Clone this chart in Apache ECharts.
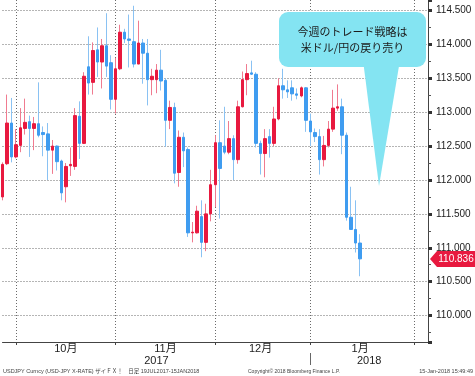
<!DOCTYPE html>
<html>
<head>
<meta charset="utf-8">
<script src="https://cdn.jsdelivr.net/npm/echarts@6/dist/echarts.min.js"></script>
<style>
  html, body { margin: 0; padding: 0; background: #fff; }
  #chart { width: 475px; height: 376px; }
</style>
</head>
<body>
<div id="chart"></div>
<script>
// trading days shown on the axis (data stops mid-January, axis runs on into February)
const days = [
  '2017-09-27', '2017-09-28', '2017-09-29',
  '2017-10-02', '2017-10-03', '2017-10-04', '2017-10-05', '2017-10-06',
  '2017-10-09', '2017-10-10', '2017-10-11', '2017-10-12', '2017-10-13',
  '2017-10-16', '2017-10-17', '2017-10-18', '2017-10-19', '2017-10-20',
  '2017-10-23', '2017-10-24', '2017-10-25', '2017-10-26', '2017-10-27',
  '2017-10-30', '2017-10-31',
  '2017-11-01', '2017-11-02', '2017-11-03',
  '2017-11-06', '2017-11-07', '2017-11-08', '2017-11-09', '2017-11-10',
  '2017-11-13', '2017-11-14', '2017-11-15', '2017-11-16', '2017-11-17',
  '2017-11-20', '2017-11-21', '2017-11-22', '2017-11-23', '2017-11-24',
  '2017-11-27', '2017-11-28', '2017-11-29', '2017-11-30',
  '2017-12-01',
  '2017-12-04', '2017-12-05', '2017-12-06', '2017-12-07', '2017-12-08',
  '2017-12-11', '2017-12-12', '2017-12-13', '2017-12-14', '2017-12-15',
  '2017-12-18', '2017-12-19', '2017-12-20', '2017-12-21', '2017-12-22',
  '2017-12-25', '2017-12-26', '2017-12-27', '2017-12-28', '2017-12-29',
  '2018-01-01', '2018-01-02', '2018-01-03', '2018-01-04', '2018-01-05',
  '2018-01-08', '2018-01-09', '2018-01-10', '2018-01-11', '2018-01-12',
  '2018-01-15', '2018-01-16', '2018-01-17', '2018-01-18', '2018-01-19',
  '2018-01-22', '2018-01-23', '2018-01-24', '2018-01-25', '2018-01-26',
  '2018-01-29', '2018-01-30', '2018-01-31',
  '2018-02-01', '2018-02-02', '2018-02-05', '2018-02-06'
];

const opens = [
  111.75, 112.24, 112.84, 112.34, 112.51, 112.76, 112.86, 112.76, 112.83, 112.70,
  112.68, 112.44, 112.50, 112.28, 111.90, 112.21, 112.20, 112.94, 112.54, 113.67,
  113.44, 113.92, 113.74, 113.98, 113.73, 113.19, 113.64, 114.18, 114.08, 114.04,
  113.71, 114.02, 113.87, 113.48, 113.48, 113.62, 113.47, 112.88, 113.07, 112.11,
  112.63, 112.45, 111.22, 111.22, 111.46, 111.08, 111.50, 111.93, 112.55, 112.50,
  112.41, 112.61, 112.30, 113.08, 113.48, 113.58, 113.56, 112.54, 112.39, 112.64,
  112.54, 112.90, 113.39, 113.33, 113.36, 113.27, 113.24, 113.36, 112.87, 112.70,
  112.64, 112.30, 112.51, 112.75, 113.06, 113.08, 112.66, 111.45, 111.27, 111.07
];
const closes = [
  112.23, 112.84, 112.34, 112.52, 112.77, 112.85, 112.76, 112.83, 112.66, 112.67,
  112.44, 112.50, 112.27, 111.81, 112.20, 112.23, 112.95, 112.54, 113.53, 113.43,
  113.91, 113.74, 113.98, 113.68, 113.19, 113.64, 114.18, 114.08, 114.06, 113.71,
  114.02, 113.87, 113.48, 113.53, 113.62, 113.46, 112.88, 113.07, 112.10, 112.63,
  112.43, 111.22, 111.23, 111.54, 111.08, 111.50, 111.93, 112.55, 112.17, 112.41,
  112.61, 112.30, 113.08, 113.48, 113.57, 113.56, 112.54, 112.39, 112.61, 112.54,
  112.90, 113.39, 113.33, 113.30, 113.27, 113.25, 113.36, 112.88, 112.71, 112.64,
  112.30, 112.51, 112.75, 113.06, 113.08, 112.66, 111.45, 111.27, 111.07, 110.836
];
const lows = [
  111.70, 112.22, 112.26, 112.32, 112.41, 112.67, 112.34, 112.44, 112.63, 112.35,
  112.00, 112.09, 112.14, 111.70, 111.67, 112.06, 112.15, 112.31, 112.53, 113.26,
  113.26, 113.52, 113.35, 113.52, 113.04, 112.98, 113.62, 114.02, 113.66, 113.66,
  113.71, 113.42, 113.10, 113.25, 113.28, 113.32, 112.49, 112.75, 111.95, 111.90,
  112.19, 111.16, 111.08, 111.21, 110.86, 110.95, 111.39, 111.60, 111.43, 112.38,
  112.38, 112.00, 112.24, 113.07, 113.25, 113.55, 112.48, 112.08, 112.04, 112.33,
  112.50, 112.88, 113.20, 113.21, 113.17, 113.19, 113.22, 112.71, 112.50, 112.56,
  112.08, 112.20, 112.48, 112.71, 113.02, 112.38, 111.40, 111.27, 110.93, 110.58
];
const highs = [
  112.26, 113.26, 113.21, 112.75, 113.06, 113.20, 112.95, 112.93, 113.44, 112.79,
  112.84, 112.59, 112.51, 112.30, 112.25, 112.48, 113.06, 113.16, 113.59, 114.12,
  114.03, 114.25, 114.08, 114.46, 113.84, 113.80, 114.29, 114.23, 114.44, 114.57,
  114.35, 114.08, 114.08, 113.64, 113.71, 113.92, 113.50, 113.17, 113.14, 112.73,
  112.70, 112.48, 111.38, 111.62, 111.70, 111.65, 112.15, 112.66, 112.88, 113.08,
  112.87, 112.66, 113.17, 113.60, 113.71, 113.76, 113.59, 112.58, 112.75, 112.75,
  113.08, 113.50, 113.64, 113.47, 113.47, 113.35, 113.38, 113.37, 112.98, 112.76,
  112.75, 112.65, 112.87, 113.33, 113.41, 113.20, 112.70, 111.90, 111.70, 111.20
];

const monthLabels = ['10月', '11月', '12月', '1月'];
const yearLabels = ['2017', '2018'];

const RED = '#e8193f';
const BLUE = '#3f9cf0';
const RED_WICK = '#f07b90';
const BLUE_WICK = '#8ac2f3';
const BUBBLE = '#84e4f2';
const GRID = '#6a6a6a';
const FONT = "'Liberation Sans', 'Noto Sans CJK JP', sans-serif";

// month / year boundaries, labels centred between them
const monthStarts = [];
const yearStarts = [];
for (let i = 1; i < days.length; i++) {
  if (days[i].slice(0, 7) !== days[i - 1].slice(0, 7)) monthStarts.push(i);
  if (days[i].slice(0, 4) !== days[i - 1].slice(0, 4)) yearStarts.push(i);
}
const monthLabelAt = {};
monthLabels.forEach((t, k) => {
  monthLabelAt[Math.floor((monthStarts[k] + monthStarts[k + 1]) / 2)] = t;
});
const yearEdges = [0, ...yearStarts, days.length - 1];
const yearLabelAt = {};
yearLabels.forEach((t, k) => {
  yearLabelAt[Math.floor((yearEdges[k] + yearEdges[k + 1]) / 2)] = t;
});

const last = closes.length - 1;

const chart = echarts.init(document.getElementById('chart'));

chart.setOption({
  animation: false,
  backgroundColor: '#fff',
  textStyle: { fontFamily: FONT },
  grid: { left: 2.5, right: 47, top: 0, bottom: 34 },
  xAxis: [
    {
      type: 'category',
      data: days,
      boundaryGap: false,
      axisLine: { lineStyle: { color: '#444' } },
      axisTick: { interval: i => monthStarts.includes(i), length: 3, lineStyle: { color: '#444' } },
      splitLine: {
        show: true,
        interval: i => monthStarts.includes(i),
        lineStyle: { color: GRID, type: [1, 2] }
      },
      axisLabel: {
        interval: i => i in monthLabelAt,
        formatter: (v, i) => monthLabelAt[i] || '',
        color: '#222',
        fontSize: 11,
        margin: 1
      }
    },
    {
      type: 'category',
      data: days,
      boundaryGap: false,
      position: 'bottom',
      offset: 11,
      axisLine: { show: false },
      axisTick: { interval: i => yearStarts.includes(i), length: 12, lineStyle: { color: '#666' } },
      splitLine: { show: false },
      axisLabel: {
        interval: i => i in yearLabelAt,
        formatter: (v, i) => yearLabelAt[i] || '',
        color: '#222',
        fontSize: 11,
        margin: 2.5
      }
    }
  ],
  yAxis: {
    type: 'value',
    position: 'right',
    min: 109.61,
    max: 114.655,
    splitNumber: 10,
    axisLine: { show: true, lineStyle: { color: '#444' } },
    axisTick: { show: true, length: 4, lineStyle: { color: '#333', width: 3 } },
    minorTick: { show: true, splitNumber: 2, length: 3, lineStyle: { color: '#555' } },
    splitLine: {
      show: true,
      showMinLine: false,
      showMaxLine: false,
      lineStyle: { color: GRID, type: [1, 2] }
    },
    axisLabel: {
      showMinLabel: false,
      showMaxLabel: false,
      formatter: v => v.toFixed(3),
      color: '#222',
      fontSize: 10,
      margin: 8
    }
  },
  series: [
    {
      // thin lighter wicks underneath
      name: 'wick',
      type: 'candlestick',
      barWidth: 1,
      data: opens.map((o, i) => [o, closes[i], lows[i], highs[i]]),
      itemStyle: {
        color: RED_WICK, color0: BLUE_WICK,
        borderColor: RED_WICK, borderColor0: BLUE_WICK, borderColorDoji: RED_WICK,
        borderWidth: 1
      }
    },
    {
      name: 'body',
      type: 'candlestick',
      barWidth: 3,
      data: opens.map((o, i) => [o, closes[i], Math.min(o, closes[i]), Math.max(o, closes[i])]),
      itemStyle: {
        color: RED, color0: BLUE,
        borderColor: RED, borderColor0: BLUE, borderColorDoji: RED,
        borderWidth: 1
      },
      markPoint: {
        silent: true,
        symbol: 'path://M0,8L7,0L46,0L46,16L7,16Z',
        symbolSize: [46, 16],
        symbolOffset: [25, 0],
        itemStyle: { color: RED },
        label: {
          show: true,
          position: 'inside',
          offset: [3, 0],
          color: '#fff',
          fontSize: 10,
          formatter: () => closes[last].toFixed(3)
        },
        data: [{ coord: [days[days.length - 1], closes[last]], value: closes[last] }]
      }
    }
  ],
  graphic: [
    { type: 'polygon', z: 100, shape: { points: [[363, 60], [400, 60], [379, 186]] }, style: { fill: BUBBLE } },
    { type: 'rect', z: 100, shape: { x: 279, y: 12, width: 147, height: 55, r: 9 }, style: { fill: BUBBLE } },
    {
      type: 'text', z: 101, x: 352.5, y: 39.5,
      style: {
        text: '今週のトレード戦略は\n米ドル/円の戻り売り',
        align: 'center', verticalAlign: 'middle',
        fontSize: 11, lineHeight: 16, fontFamily: "'Noto Sans CJK JP', sans-serif",
        fill: '#1b1b1b'
      }
    },
    {
      type: 'text', x: 3, y: 371.5,
      style: {
        text: 'USDJPY Curncy (USD-JPY X-RATE) ザイＦＸ！　日足 19JUL2017-15JAN2018',
        verticalAlign: 'middle', fontSize: 5.5, fontFamily: FONT, fill: '#444'
      }
    },
    {
      type: 'text', x: 248, y: 371.5,
      style: {
        text: 'Copyright© 2018 Bloomberg Finance L.P.',
        verticalAlign: 'middle', fontSize: 5, fontFamily: FONT, fill: '#444'
      }
    },
    {
      type: 'text', x: 473, y: 371.5,
      style: {
        text: '15-Jan-2018 15:49:49',
        align: 'right', verticalAlign: 'middle', fontSize: 5.5, fontFamily: FONT, fill: '#444'
      }
    }
  ]
});
</script>
</body>
</html>
